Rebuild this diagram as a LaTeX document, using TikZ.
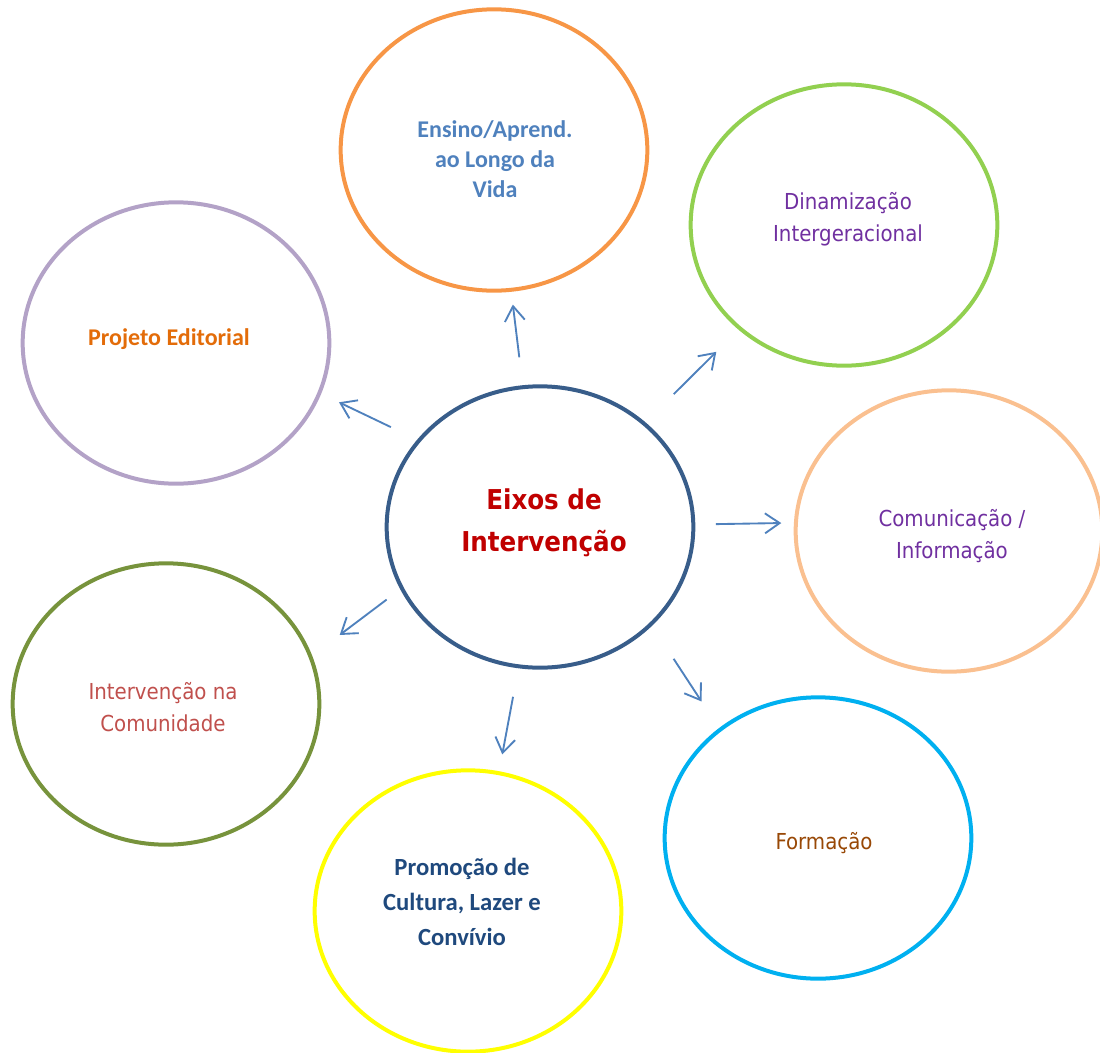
\documentclass[tikz,border=0pt]{standalone}
\usepackage{fontspec}
\setmainfont{DejaVu Sans Condensed}
\newfontfamily\corbel{Carlito}
\usetikzlibrary{shapes.geometric,arrows.meta,calc}
\definecolor{azulseta}{HTML}{4F81BD}
\definecolor{laranja}{HTML}{F79646}
\definecolor{verde}{HTML}{92D050}
\definecolor{lilas}{HTML}{B3A2C7}
\definecolor{azulesc}{HTML}{385D8A}
\definecolor{pessego}{HTML}{FAC090}
\definecolor{oliva}{HTML}{77933C}
\definecolor{ciano}{HTML}{00B0F0}
\definecolor{amarelo}{HTML}{FFFF00}
\definecolor{roxo}{HTML}{7030A0}
\definecolor{laranjaesc}{HTML}{E36C09}
\definecolor{vermelho}{HTML}{C00000}
\definecolor{rosa}{HTML}{C0504D}
\definecolor{castanho}{HTML}{984806}
\definecolor{marinho}{HTML}{1F497D}
\begin{document}
\begin{tikzpicture}[x=0.75pt,y=-0.75pt,
    eixo/.style={draw,ellipse,line width=3pt,minimum width=230pt,minimum height=211pt,inner sep=0pt},
    txt/.style={align=center,inner sep=0pt,font=\fontsize{16.5}{24}\selectfont},
    txtc/.style={txt,font=\corbel\bfseries\fontsize{18}{23}\selectfont},
    seta/.style={draw=azulseta,line width=1.4pt,-{Straight Barb[length=11pt,width=15pt]}}]
    \useasboundingbox (0,0) rectangle (1100,1053);
    \node[eixo,draw=laranja] (ensino) at (494,150) {};
    \node[eixo,draw=verde] (dinam) at (844,225) {};
    \node[eixo,draw=lilas] (projeto) at (176,343) {};
    \node[eixo,draw=azulesc] (eixos) at (540,527) {};
    \node[eixo,draw=pessego] (comunic) at (949,531) {};
    \node[eixo,draw=oliva] (interv) at (166,704) {};
    \node[eixo,draw=ciano] (formacao) at (818,838) {};
    \node[eixo,draw=amarelo] (promocao) at (468,911) {};
    \node[txtc,text=azulseta,font=\corbel\bfseries\fontsize{18}{22.5}\selectfont] (ensinot) at (495,159) {Ensino/Aprend.\\ao Longo da\\Vida};
    \node[txt,text=roxo] (dinamt) at (848,219) {Dinamização\\Intergeracional};
    \node[txtc,text=laranjaesc] (projetot) at (169,339) {Projeto Editorial};
    \node[txt,text=vermelho,font=\bfseries\fontsize{20.5}{31.5}\selectfont] (eixost) at (544,523) {Eixos de\\Intervenção};
    \node[txt,text=roxo] (comunict) at (952,536) {Comunicação /\\Informação};
    \node[txt,text=rosa] (intervt) at (163,707) {Intervenção na\\Comunidade};
    \node[txt,text=castanho] (formacaot) at (824,843) {Formação};
    \node[txtc,text=marinho,font=\corbel\bfseries\fontsize{18.5}{26}\selectfont] (promocaot) at (462,902) {Promoção de\\Cultura, Lazer e\\Convívio};
    \draw[seta] ($(eixos)!0.45!(ensino)$) -- ($(eixos)!0.59!(ensino)$);
    \draw[seta] ($(eixos)!0.44!(dinam)$) -- ($(eixos)!0.58!(dinam)$);
    \draw[seta] ($(eixos)!0.44!-7:(projeto)$) -- ($(eixos)!0.58!-5:(projeto)$);
    \draw[seta] ($(eixos)!0.43!1.5:(comunic)$) -- ($(eixos)!0.59!1.5:(comunic)$);
    \draw[seta] ($(eixos)!0.41!(interv)$) -- ($(eixos)!0.55!3:(interv)$);
    \draw[seta] ($(eixos)!0.45!3.6:(formacao)$) -- ($(eixos)!0.57!1:(formacao)$);
    \draw[seta] ($(eixos)!0.44!1.6:(promocao)$) -- ($(eixos)!0.59!1.2:(promocao)$);
\end{tikzpicture}
\end{document}
